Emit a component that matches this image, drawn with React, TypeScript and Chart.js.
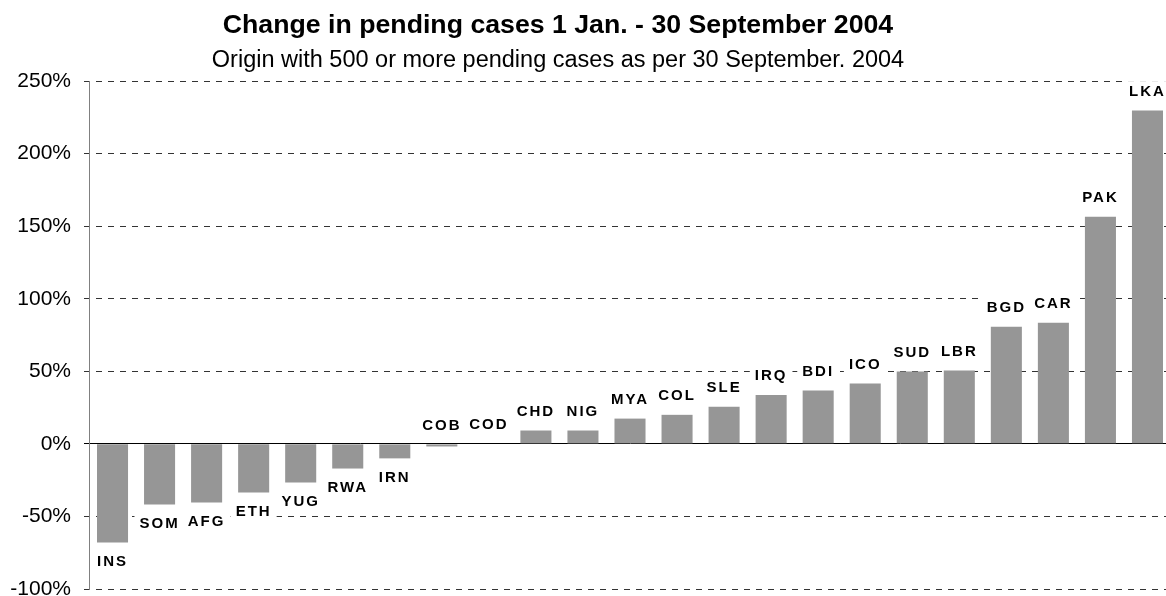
import React, { useEffect, useRef } from "react";
import { Chart, registerables } from "chart.js";

Chart.register(...registerables);

const categories = [
  "INS", "SOM", "AFG", "ETH", "YUG", "RWA", "IRN", "COB", "COD", "CHD", "NIG", "MYA",
  "COL", "SLE", "IRQ", "BDI", "ICO", "SUD", "LBR", "BGD", "CAR", "PAK", "LKA",
];
const changePct = [
  -68, -41.8, -40.4, -33.5, -26.6, -17, -10, -1.8, 0, 9.2, 9.2, 17.4,
  20, 25.5, 33.7, 36.7, 41.5, 49.8, 50.5, 80.7, 83.4, 156.5, 229.6,
];
const yMin = -100;
const yMax = 250;
const yStep = 50;
const titleText = "Change in pending cases 1 Jan. - 30 September 2004";
const subtitleText = "Origin with 500 or more pending cases as per 30 September. 2004";

const FONT = '"Liberation Sans", Arial, sans-serif';

const labelPlugin = {
  id: "barLabels",
  afterDatasetsDraw(chart: any) {
    const ctx = chart.ctx as CanvasRenderingContext2D;
    const meta = chart.getDatasetMeta(0);
    ctx.save();
    ctx.font = `bold 15px ${FONT}`;
    (ctx as any).letterSpacing = "2px";
    ctx.textAlign = "center";
    ctx.textBaseline = "alphabetic";
    meta.data.forEach((el: any, i: number) => {
      const v = changePct[i];
      const { x, y, base } = el.getProps(["x", "y", "base"], true);
      const baseline = v < -5 ? Math.max(y, base) + 23.5 : Math.min(y, base) - 14.5;
      const text = categories[i];
      const w = ctx.measureText(text).width;
      ctx.fillStyle = "#ffffff";
      ctx.fillRect(x - w / 2 - 5, baseline - 15, w + 10, 19);
      ctx.fillStyle = "#000000";
      ctx.fillText(text, x, baseline);
    });
    ctx.restore();
  },
};

const titlePlugin = {
  id: "titles",
  afterDraw(chart: any) {
    const ctx = chart.ctx as CanvasRenderingContext2D;
    ctx.save();
    ctx.fillStyle = "#000";
    ctx.textAlign = "center";
    ctx.textBaseline = "alphabetic";
    ctx.font = `bold 26.7px ${FONT}`;
    ctx.fillText(titleText, 558, 33);
    ctx.font = `23.5px ${FONT}`;
    ctx.fillText(subtitleText, 558, 66.5);
    ctx.restore();
  },
};

export default function App() {
  const ref = useRef<HTMLCanvasElement | null>(null);

  useEffect(() => {
    if (!ref.current) return;
    const chart = new Chart(ref.current, {
      type: "bar",
      data: {
        labels: categories,
        datasets: [
          {
            data: changePct,
            backgroundColor: "#969696",
            borderWidth: 0,
            categoryPercentage: 1,
            barPercentage: 0.66,
          },
        ],
      },
      options: {
        animation: false,
        responsive: false,
        devicePixelRatio: 1,
        layout: { padding: { top: 81, bottom: 31, left: 0, right: 0 } },
        plugins: {
          legend: { display: false },
          tooltip: { enabled: false },
          title: { display: false },
        },
        scales: {
          x: { display: false, grid: { display: false } },
          y: {
            min: yMin,
            max: yMax,
            afterFit: (s: any) => {
              s.width = 89;
            },
            ticks: {
              stepSize: yStep,
              callback: (v: any) => `${v}%`,
              color: "#000",
              font: { family: FONT, size: 21 },
              padding: 13,
            },
            grid: {
              color: (c: any) => (c.tick && c.tick.value === 0 ? "#000" : "#333"),
              tickColor: (c: any) => (c.tick && c.tick.value === 0 ? "#000" : "#333"),
              tickLength: 5,
              lineWidth: 1,
            },
            border: {
              display: true,
              color: "#808080",
              width: 1,
              dash: (c: any) => (c.tick && c.tick.value === 0 ? [] : [6, 6]),
              dashOffset: 6,
            },
          },
        },
      },
      plugins: [labelPlugin, titlePlugin],
    } as any);
    return () => chart.destroy();
  }, []);

  return (
    <div
      style={{
        position: "fixed",
        left: 0,
        top: 0,
        width: 1166,
        height: 596,
        overflow: "hidden",
        background: "#fff",
      }}
    >
      <canvas ref={ref} width={1171} height={620} style={{ display: "block" }} />
    </div>
  );
}
